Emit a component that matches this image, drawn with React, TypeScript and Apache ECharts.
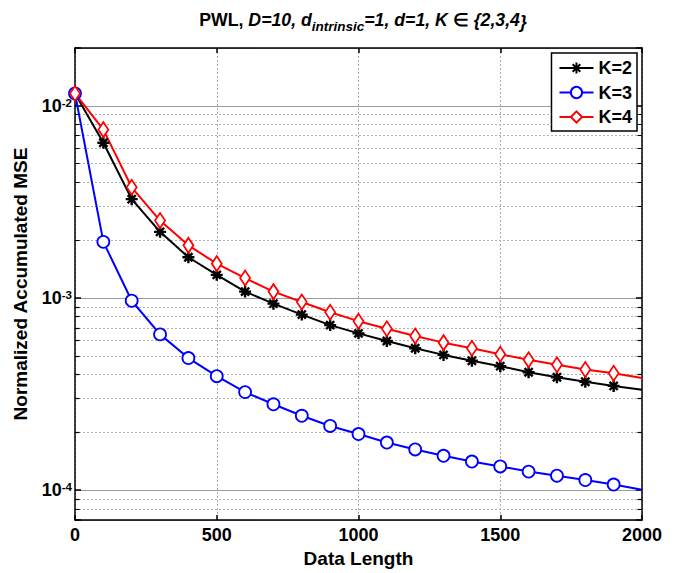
import React, { useEffect, useRef } from "react";
import * as echarts from "echarts";

const xValues = [0, 100, 200, 300, 400, 500, 600, 700, 800, 900, 1000, 1100, 1200, 1300, 1400, 1500, 1600, 1700, 1800, 1900, 2000];
const k2Values = [0.0116, 0.00643, 0.00327, 0.00221, 0.00163, 0.00132, 0.00108, 0.000935, 0.00082, 0.000723, 0.000655, 0.000598, 0.000548, 0.000506, 0.000472, 0.000442, 0.000411, 0.000387, 0.000367, 0.000349, 0.000333];
const k3Values = [0.0116, 0.00196, 0.000968, 0.000647, 0.000487, 0.000392, 0.000324, 0.00028, 0.000244, 0.000216, 0.000196, 0.000177, 0.000163, 0.000151, 0.000141, 0.000133, 0.000125, 0.000119, 0.000113, 0.000107, 0.0001006];
const k4Values = [0.0116, 0.00752, 0.00377, 0.00253, 0.00188, 0.00151, 0.00127, 0.00108, 0.000954, 0.000844, 0.000758, 0.000692, 0.000634, 0.000586, 0.000548, 0.00051, 0.000477, 0.00045, 0.000425, 0.000406, 0.000384];
const seriesNames = ["K=2", "K=3", "K=4"];
const minorGridValues = [8e-5, 9e-5, 2e-4, 3e-4, 4e-4, 5e-4, 6e-4, 7e-4, 8e-4, 9e-4, 2e-3, 3e-3, 4e-3, 5e-3, 6e-3, 7e-3, 8e-3, 9e-3];
const xTickInterval = 500;
const xMin = 0;
const xMax = 2000;
const yMin = 7e-5;
const yMax = 0.02;

const FONT = "Liberation Sans";
const ASTERISK = "path://M5 0L5 10M0 5L10 5M1.6 1.6L8.4 8.4M1.6 8.4L8.4 1.6";

function buildData(values: number[]) {
  return xValues.map((x, i) =>
    x === xMax ? { value: [x, values[i]], symbol: "none" } : { value: [x, values[i]] }
  );
}

export default function App() {
  const ref = useRef<HTMLDivElement>(null);
  useEffect(() => {
    if (!ref.current) return;
    const chart = echarts.init(ref.current, null, { renderer: "svg" });
    const minorGrid = minorGridValues.map((v) => ({ coords: [[xMin, v], [xMax, v]] }));
    const minorTicks: any[] = [];
    minorGridValues.forEach((v) => {
      minorTicks.push({ coords: [[xMin, v], [xMin + 16, v]] });
      minorTicks.push({ coords: [[xMax - 16, v], [xMax, v]] });
    });
    const lineCommon = {
      type: "line",
      showAllSymbol: true,
      z: 3,
    };
    const bi = { fontFamily: FONT, fontSize: 17.7, fontWeight: "bold", fontStyle: "italic", color: "#000", lineHeight: 22, verticalAlign: "top" };
    chart.setOption({
      animation: false,
      backgroundColor: "#fff",
      textStyle: { fontFamily: FONT },
      title: {
        text: "{b|PWL, }{bi|D=10, d}{sub|intrinsic}{bi|=1, d=1, K}{b| \u2208 }{bi|{2,3,4}}",
        left: 358,
        textAlign: "center",
        top: 6,
        textStyle: {
          ...bi,
          rich: {
            b: { ...bi, fontStyle: "normal" },
            bi: bi,
            sub: { fontFamily: FONT, fontSize: 13.5, fontWeight: "bold", fontStyle: "italic", color: "#000", lineHeight: 14, padding: [13, 0, 0, 0], verticalAlign: "bottom" },
          },
        },
      },
      legend: {
        data: seriesNames,
        orient: "vertical",
        right: 41,
        top: 53,
        backgroundColor: "#fff",
        borderColor: "#000",
        borderWidth: 1.5,
        borderRadius: 0,
        padding: [5, 5, 4, 7],
        itemGap: 4.5,
        itemWidth: 34,
        itemHeight: 14,
        textStyle: { fontFamily: FONT, fontSize: 18, fontWeight: "bold", color: "#000", lineHeight: 20, padding: [0, 0, 0, 0] },
      },
      grid: { left: 75, right: 36, top: 48, bottom: 50 },
      xAxis: [
        {
          type: "value",
          min: xMin,
          max: xMax,
          interval: xTickInterval,
          name: "Data Length",
          nameLocation: "middle",
          nameGap: 29,
          nameTextStyle: { fontFamily: FONT, fontSize: 19, fontWeight: "bold", color: "#000" },
          axisLine: { show: true, onZero: false, lineStyle: { color: "#000", width: 1.5 } },
          axisTick: { show: true, inside: true, length: 5, lineStyle: { color: "#000", width: 1.5 } },
          axisLabel: { fontFamily: FONT, fontSize: 18, fontWeight: "bold", color: "#000", margin: 6, formatter: (v: number) => String(v) },
          splitLine: { show: true, lineStyle: { color: "#aaa", type: [2, 2], width: 1 } },
        },
        {
          type: "value",
          position: "top",
          min: xMin,
          max: xMax,
          interval: xTickInterval,
          axisLine: { show: true, onZero: false, lineStyle: { color: "#000", width: 1.5 } },
          axisTick: { show: true, inside: true, length: 5, lineStyle: { color: "#000", width: 1.5 } },
          axisLabel: { show: false },
          splitLine: { show: false },
        },
      ],
      yAxis: [
        {
          type: "log",
          logBase: 10,
          min: yMin,
          max: yMax,
          name: "Normalized Accumulated MSE",
          nameLocation: "middle",
          nameGap: 45,
          nameTextStyle: { fontFamily: FONT, fontSize: 19, fontWeight: "bold", color: "#000" },
          axisLine: { show: true, onZero: false, lineStyle: { color: "#000", width: 1.5 } },
          axisTick: { show: true, inside: true, length: 6, lineStyle: { color: "#000", width: 1.5 } },
          axisLabel: {
            margin: 3,
            formatter: (v: number) => {
              const e = Math.log10(v);
              const r = Math.round(e);
              if (Math.abs(e - r) > 1e-6) return "";
              return `{base|10}{sup|${r}}`;
            },
            rich: {
              base: { fontFamily: FONT, fontSize: 18, fontWeight: "bold", color: "#000", lineHeight: 18, padding: [8, 0, 0, 0], verticalAlign: "bottom" },
              sup: { fontFamily: FONT, fontSize: 11.5, fontWeight: "bold", color: "#000", lineHeight: 11, verticalAlign: "top" },
            },
          },
          splitLine: { show: true, lineStyle: { color: "#9a9a9a", type: "solid", width: 1 } },
        },
        {
          type: "log",
          logBase: 10,
          min: yMin,
          max: yMax,
          position: "right",
          axisLine: { show: true, onZero: false, lineStyle: { color: "#000", width: 1.5 } },
          axisTick: { show: true, inside: true, length: 6, lineStyle: { color: "#000", width: 1.5 } },
          axisLabel: { show: false },
          splitLine: { show: false },
        },
      ],
      series: [
        {
          name: "gridlines",
          type: "lines",
          coordinateSystem: "cartesian2d",
          xAxisIndex: 0,
          yAxisIndex: 0,
          silent: true,
          z: 1,
          lineStyle: { color: "#b0b0b0", type: [2, 2], width: 1, opacity: 1 },
          data: minorGrid,
        },
        {
          name: "minorticks",
          type: "lines",
          coordinateSystem: "cartesian2d",
          xAxisIndex: 0,
          yAxisIndex: 0,
          silent: true,
          z: 2,
          lineStyle: { color: "#000", type: "solid", width: 1.2, opacity: 1 },
          data: minorTicks,
        },
        {
          ...lineCommon,
          name: seriesNames[0],
          data: buildData(k2Values),
          symbol: ASTERISK,
          symbolSize: 12,
          lineStyle: { color: "#000", width: 2, type: "solid" },
          itemStyle: { color: "#000", borderColor: "#000", borderWidth: 2.4 },
        },
        {
          ...lineCommon,
          name: seriesNames[1],
          data: buildData(k3Values),
          symbol: "circle",
          symbolSize: 12,
          lineStyle: { color: "#0000ff", width: 2, type: "solid" },
          itemStyle: { color: "#fff", borderColor: "#0000ff", borderWidth: 1.8 },
        },
        {
          ...lineCommon,
          name: seriesNames[2],
          data: buildData(k4Values),
          symbol: "diamond",
          symbolSize: [10, 15],
          lineStyle: { color: "#ff0000", width: 2, type: "solid" },
          itemStyle: { color: "#fff", borderColor: "#ff0000", borderWidth: 1.8 },
        },
      ],
    });
    return () => chart.dispose();
  }, []);
  return <div ref={ref} style={{ position: "fixed", left: 0, top: 0, width: 678, height: 573 }} />;
}
